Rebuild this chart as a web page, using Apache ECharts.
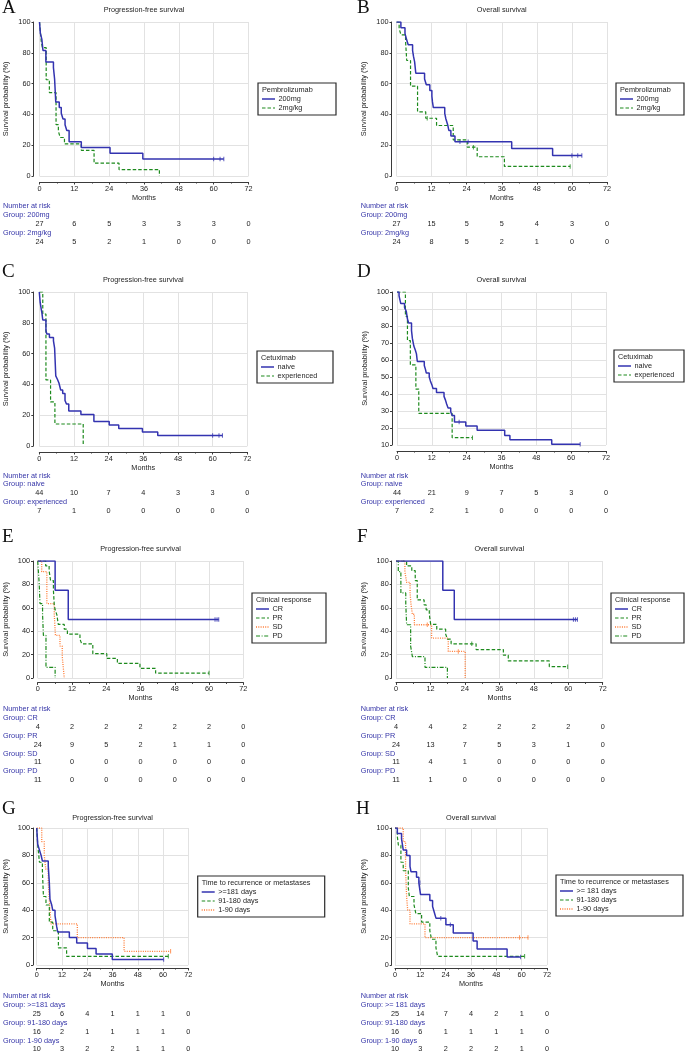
<!DOCTYPE html>
<html lang="en">
<head>
<meta charset="UTF-8">
<title>Kaplan-Meier curves</title>
<script src="https://cdn.jsdelivr.net/npm/echarts/dist/echarts.min.js"></script>
<style>html,body{margin:0;padding:0;background:#fff;}</style>
</head>
<body>
<div id="chart" style="width:685px;height:1052px;"></div>
<script>
// time points of the x axis / at-risk table (months)
var months = [0, 12, 24, 36, 48, 60, 72];

// ---- A: PFS by pembrolizumab dose  [month, survival %]
var pfsPembro200 = [[0,100],[0.3,92.6],[0.8,88.9],[1.2,81.5],[2.2,74.1],[4.8,70.4],[5.2,63.0],[5.6,48.1],[6.8,44.4],[7.5,40.7],[8.1,37.0],[8.8,33.3],[9.4,29.6],[10.2,22.2],[14.4,18.5],[24.3,14.8],[35.6,11.1],[63.5,11.1]];
var pfsPembro200Cens = [[60,11.1],[62.2,11.1],[63.5,11.1]];
var pfsPembro2 = [[0,100],[0.2,95.8],[0.4,91.7],[0.6,87.5],[1.0,83.3],[2.3,62.5],[3.4,54.2],[5.7,33.3],[6.5,29.2],[7.1,25.0],[8.6,20.8],[14.4,16.7],[18.8,8.3],[27.4,4.2],[41.3,0]];
var pfsPembro2Cens = [];
var riskPfsPembro200 = [27,6,5,3,3,3,0];
var riskPfsPembro2 = [24,5,2,1,0,0,0];

// ---- B: OS by pembrolizumab dose
var osPembro200 = [[0,100],[1.5,96.3],[2.9,92.6],[3.4,88.9],[4.0,85.2],[5.5,81.5],[5.8,77.8],[6.2,74.1],[6.6,66.7],[9.6,63.0],[10.2,59.3],[11.4,55.6],[12.1,51.9],[12.3,48.1],[12.6,44.4],[16.5,40.7],[16.9,37.0],[17.5,33.3],[17.9,29.6],[18.6,25.9],[20.0,22.2],[39.4,17.8],[53.4,13.3],[63.4,13.3]];
var osPembro200Cens = [[21.7,22.2],[24.5,22.2],[60,13.3],[62,13.3],[63.4,13.3]];
var osPembro2 = [[0,100],[0.9,95.8],[1.5,91.7],[3.1,87.5],[3.5,75.0],[4.8,58.3],[7.2,41.7],[10.0,37.5],[13.7,32.8],[19.4,23.4],[24.2,18.7],[27.6,12.5],[36.9,6.2],[59.4,6.2]];
var osPembro2Cens = [[10.5,37.5],[26.3,18.7],[59.4,6.2]];
var riskOsPembro200 = [27,15,5,5,4,3,0];
var riskOsPembro2 = [24,8,5,2,1,0,0];

// ---- C: PFS by prior cetuximab
var pfsCetuxNaive = [[0,100],[0.3,93.2],[0.7,88.6],[0.9,86.4],[1.2,81.8],[2.3,75.0],[2.6,72.7],[3.5,70.5],[4.9,68.2],[5.3,63.6],[5.7,45.5],[6.3,43.2],[6.8,40.9],[7.4,36.4],[8.1,34.1],[8.9,29.5],[9.4,27.3],[10.2,22.7],[14.4,20.5],[18.9,15.9],[24.2,13.6],[27.5,11.4],[35.7,9.1],[41.0,6.8],[63.4,6.8]];
var pfsCetuxNaiveCens = [[60,6.8],[62.2,6.8],[63.4,6.8]];
var pfsCetuxExp = [[0,100],[1.2,85.7],[2.3,42.9],[3.9,28.6],[5.4,14.3],[15.2,0]];
var pfsCetuxExpCens = [];
var riskPfsCetuxNaive = [44,10,7,4,3,3,0];
var riskPfsCetuxExp = [7,1,0,0,0,0,0];

// ---- D: OS by prior cetuximab
var osCetuxNaive = [[0,100],[0.7,97.7],[1.3,93.2],[2.6,90.9],[3.2,88.6],[3.6,84.1],[4.0,81.8],[5.0,77.3],[5.3,72.7],[5.8,68.2],[6.3,65.9],[6.7,63.6],[7.0,59.1],[9.4,56.8],[9.8,54.5],[10.1,52.3],[11.1,50.0],[11.5,47.7],[12.0,45.5],[12.4,43.2],[13.6,40.9],[16.2,38.6],[16.7,36.4],[17.1,34.1],[17.6,31.8],[18.5,29.5],[19.0,27.3],[19.8,23.6],[23.7,21.2],[27.6,18.7],[37.1,15.6],[38.9,13.1],[53.3,10.5],[63.1,10.5]];
var osCetuxNaiveCens = [[21.4,23.6],[63.1,10.5]];
var osCetuxExp = [[0,100],[2.9,85.7],[3.6,71.4],[4.6,57.1],[6.5,42.9],[7.5,28.6],[19.0,14.3],[26.0,14.3]];
var osCetuxExpCens = [[26.0,14.3]];
var riskOsCetuxNaive = [44,21,9,7,5,3,0];
var riskOsCetuxExp = [7,2,1,0,0,0,0];

// ---- E: PFS by clinical response
var pfsCR = [[0,100],[6.1,75],[10.7,50],[63.4,50]];
var pfsCRCens = [[62.1,50],[62.8,50],[63.4,50]];
var pfsPR = [[0,100],[2.8,95.8],[4.0,91.7],[4.5,83.3],[5.5,75.0],[5.8,62.5],[6.1,58.3],[6.7,54.2],[7.2,45.8],[9.3,41.7],[10.4,37.5],[14.8,33.3],[15.4,29.2],[19.3,20.8],[24.2,16.7],[27.9,12.5],[35.8,8.3],[41.3,4.2],[60.0,4.2]];
var pfsPRCens = [[60.0,4.2]];
var pfsSD = [[0,100],[1.4,90.9],[3.2,63.6],[5.8,54.5],[6.2,36.4],[7.8,27.3],[8.6,18.2],[9.3,0]];
var pfsSDCens = [];
var pfsPD = [[0,100],[0.5,81.8],[0.8,63.6],[1.7,54.5],[2.0,36.4],[2.9,9.1],[6.1,0]];
var pfsPDCens = [];
var riskPfsCR = [4,2,2,2,2,2,0];
var riskPfsPR = [24,9,5,2,1,1,0];
var riskPfsSD = [11,0,0,0,0,0,0];
var riskPfsPD = [11,0,0,0,0,0,0];

// ---- F: OS by clinical response
var osCR = [[0,100],[16.3,75],[20.3,50],[63.2,50]];
var osCRCens = [[61.8,50],[62.5,50],[63.2,50]];
var osPR = [[0,100],[3.7,95.8],[5.5,91.7],[6.7,83.3],[7.4,66.7],[9.8,62.5],[10.5,58.3],[11.6,54.2],[12.1,45.8],[14.2,41.7],[17.3,37.5],[17.9,33.3],[19.2,29.2],[27.9,24.3],[37.4,19.5],[39.1,14.6],[53.4,9.7],[59.8,9.7]];
var osPRCens = [[26.4,29.2],[59.8,9.7]];
var osSD = [[0,100],[3.1,90.9],[3.7,81.8],[4.9,72.7],[5.2,63.6],[5.7,54.5],[6.4,45.5],[12.4,34.1],[18.2,22.7],[24.1,0]];
var osSDCens = [[10.9,45.5],[21.7,22.7]];
var osPD = [[0,100],[0.8,90.9],[1.7,72.7],[3.4,63.6],[3.7,45.5],[5.1,27.3],[5.7,18.2],[10.1,9.1],[17.9,0]];
var osPDCens = [];
var riskOsCR = [4,4,2,2,2,2,0];
var riskOsPR = [24,13,7,5,3,1,0];
var riskOsSD = [11,4,1,0,0,0,0];
var riskOsPD = [11,1,0,0,0,0,0];

// ---- G: PFS by time to recurrence or metastases
var pfsTtr181 = [[0,100],[0.5,88],[1.3,84],[2.1,80],[2.7,76],[5.5,72],[6.0,60],[6.3,48],[7.1,44],[7.6,40],[8.7,36],[9.5,28],[10.0,24],[15.5,20],[19.0,16],[24.1,12],[28.2,8],[35.9,4],[60.3,4]];
var pfsTtr181Cens = [[60.3,4]];
var pfsTtr91 = [[0,100],[0.5,87.5],[1.3,75.0],[2.7,68.8],[3.2,50.0],[4.4,43.8],[6.0,31.3],[7.6,25.0],[10.3,12.5],[14.2,6.3],[62.5,6.3]];
var pfsTtr91Cens = [[62.5,6.3]];
var pfsTtr1 = [[0,100],[2.4,90],[3.6,80],[4.3,70],[5.5,60],[6.3,40],[6.8,30],[19.3,20],[41.5,10],[63.6,10]];
var pfsTtr1Cens = [[63.6,10]];
var riskPfsTtr181 = [25,6,4,1,1,1,0];
var riskPfsTtr91 = [16,2,1,1,1,1,0];
var riskPfsTtr1 = [10,3,2,2,1,1,0];

// ---- H: OS by time to recurrence or metastases
var osTtr181 = [[0,100],[1.1,96],[3.1,92],[3.9,84],[5.5,80],[7.1,72],[7.6,68],[10.2,64],[11.3,60],[12.1,51.4],[16.5,47.1],[17.8,42.8],[18.6,38.5],[19.4,34.2],[24.1,29.3],[27.6,23.4],[37.0,17.6],[38.9,11.7],[53.1,5.9],[59.5,5.9]];
var osTtr181Cens = [[11.8,60],[21.7,34.2],[26.2,29.3],[59.5,5.9]];
var osTtr91 = [[0,100],[1.1,93.8],[1.6,87.5],[2.8,75.0],[3.9,68.8],[6.3,56.3],[6.8,50.0],[9.0,43.8],[9.9,37.5],[12.6,31.3],[16.5,25.0],[17.3,18.8],[19.4,12.5],[20.2,6.3],[61.4,6.3]];
var osTtr91Cens = [[61.4,6.3]];
var osTtr1 = [[0,100],[3.9,90],[5.0,70],[5.5,50],[6.0,40],[7.1,30],[14.2,20],[63.0,20]];
var osTtr1Cens = [[59.0,20],[63.0,20]];
var riskOsTtr181 = [25,14,7,4,2,1,0];
var riskOsTtr91 = [16,6,1,1,1,1,0];
var riskOsTtr1 = [10,3,2,2,2,1,0];

// ---- styles
var FONT = '"Liberation Sans", Arial, Helvetica, sans-serif';
var SERIF = '"Liberation Serif", "Times New Roman", serif';
var FS = 7.3;
var BLUE_TXT = '#3535a8';
var TXT = '#1e1e1e';
var styles = {
  blue:    {color:'#3333b0', type:'solid', width:1.5},
  green:   {color:'#1d8a1d', type:[3.5,2], width:1.2},
  orange:  {color:'#ff7a33', type:[1,1.3], width:1.3},
  dashdot: {color:'#1d8a1d', type:[4,1.6,1,1.6], width:1.2}
};
var RS = 8.9; // row step of the at-risk table

var panels = [
  {letter:'A', lx:2, ly:8.5, title:'Progression-free survival', ty:10, grid:[39.5,22,209,154], off:[6,6], yMin:0, yStep:20,
   box:[258,83,78], boxTitle:'Pembrolizumab', riskX:3, riskTop:206,
   groups:[{name:'200mg', curve:pfsPembro200, cens:pfsPembro200Cens, risk:riskPfsPembro200, st:'blue'},
           {name:'2mg/kg', curve:pfsPembro2, cens:pfsPembro2Cens, risk:riskPfsPembro2, st:'green'}]},
  {letter:'B', lx:357, ly:8.5, title:'Overall survival', ty:10, grid:[396.5,22,210.5,154], off:[5,6], yMin:0, yStep:20,
   box:[616,83,68], boxTitle:'Pembrolizumab', riskX:360.7, riskTop:206,
   groups:[{name:'200mg', curve:osPembro200, cens:osPembro200Cens, risk:riskOsPembro200, st:'blue'},
           {name:'2mg/kg', curve:osPembro2, cens:osPembro2Cens, risk:riskOsPembro2, st:'green'}]},
  {letter:'C', lx:2, ly:272.5, title:'Progression-free survival', ty:280, grid:[39.3,292,208,154], off:[6,6], yMin:0, yStep:20,
   box:[257,351,76], boxTitle:'Cetuximab', riskX:3, riskTop:475.5,
   groups:[{name:'naive', curve:pfsCetuxNaive, cens:pfsCetuxNaiveCens, risk:riskPfsCetuxNaive, st:'blue'},
           {name:'experienced', curve:pfsCetuxExp, cens:pfsCetuxExpCens, risk:riskPfsCetuxExp, st:'green'}]},
  {letter:'D', lx:357, ly:272.5, title:'Overall survival', ty:280, grid:[397,292,209,153], off:[5,6], yMin:10, yStep:10,
   box:[614,350,70], boxTitle:'Cetuximab', riskX:360.7, riskTop:475.5,
   groups:[{name:'naive', curve:osCetuxNaive, cens:osCetuxNaiveCens, risk:riskOsCetuxNaive, st:'blue'},
           {name:'experienced', curve:osCetuxExp, cens:osCetuxExpCens, risk:riskOsCetuxExp, st:'green'}]},
  {letter:'E', lx:2, ly:537.5, title:'Progression-free survival', ty:549, grid:[37.7,561,205.6,117], off:[4.7,4.4], yMin:0, yStep:20,
   box:[252,593,74], boxTitle:'Clinical response', riskX:3, riskTop:709,
   groups:[{name:'CR', curve:pfsCR, cens:pfsCRCens, risk:riskPfsCR, st:'blue'},
           {name:'PR', curve:pfsPR, cens:pfsPRCens, risk:riskPfsPR, st:'green'},
           {name:'SD', curve:pfsSD, cens:pfsSDCens, risk:riskPfsSD, st:'orange'},
           {name:'PD', curve:pfsPD, cens:pfsPDCens, risk:riskPfsPD, st:'dashdot'}]},
  {letter:'F', lx:357, ly:537.5, title:'Overall survival', ty:549, grid:[396,561,206.7,117], off:[4.3,4.4], yMin:0, yStep:20,
   box:[611,593,73], boxTitle:'Clinical response', riskX:360.7, riskTop:709,
   groups:[{name:'CR', curve:osCR, cens:osCRCens, risk:riskOsCR, st:'blue'},
           {name:'PR', curve:osPR, cens:osPRCens, risk:riskOsPR, st:'green'},
           {name:'SD', curve:osSD, cens:osSDCens, risk:riskOsSD, st:'orange'},
           {name:'PD', curve:osPD, cens:osPDCens, risk:riskOsPD, st:'dashdot'}]},
  {letter:'G', lx:2, ly:809, title:'Progression-free survival', ty:818, grid:[36.7,828,151.6,137], off:[3.7,3], yMin:0, yStep:20,
   box:[197.7,876,127], boxTitle:'Time to recurrence or metastases', riskX:3, riskTop:996,
   groups:[{name:'>=181 days', curve:pfsTtr181, cens:pfsTtr181Cens, risk:riskPfsTtr181, st:'blue'},
           {name:'91-180 days', curve:pfsTtr91, cens:pfsTtr91Cens, risk:riskPfsTtr91, st:'green'},
           {name:'1-90 days', curve:pfsTtr1, cens:pfsTtr1Cens, risk:riskPfsTtr1, st:'orange'}]},
  {letter:'H', lx:356, ly:809, title:'Overall survival', ty:818, grid:[395,828,152,137], off:[3.3,3], yMin:0, yStep:20,
   box:[556,875,127], boxTitle:'Time to recurrence or metastases', riskX:360.7, riskTop:996,
   groups:[{name:'>= 181 days', curve:osTtr181, cens:osTtr181Cens, risk:riskOsTtr181, st:'blue'},
           {name:'91-180 days', curve:osTtr91, cens:osTtr91Cens, risk:riskOsTtr91, st:'green'},
           {name:'1-90 days', curve:osTtr1, cens:osTtr1Cens, risk:riskOsTtr1, st:'orange'}]}
];

function txt(x, y, s, o) {
  o = o || {};
  var al = o.align || 'left';
  return {type:'text', x:x, y:y, silent:true, z:10,
    style:{text:s, fill:o.fill || TXT, font:(o.size || FS) + 'px ' + (o.family || FONT),
           textAlign:al, align:al, textVerticalAlign:'middle', verticalAlign:'middle'}};
}

var option = {animation:false, textStyle:{fontFamily:FONT}, grid:[], xAxis:[], yAxis:[], series:[], graphic:{elements:[]}};
var G = option.graphic.elements;
var axisCol = '#3a3a3a';

// plot grids
panels.forEach(function (p, i) {
  var g = p.grid;
  option.grid.push({left:g[0], top:g[1], width:g[2], height:g[3], containLabel:false, outerBoundsMode:'none'});
  option.xAxis.push({type:'value', gridIndex:i, min:0, max:72, interval:12, offset:p.off[1],
    name:'Months', nameLocation:'middle', nameGap:12, nameTextStyle:{fontSize:FS, color:TXT},
    axisLine:{onZero:false, lineStyle:{color:axisCol}}, axisTick:{length:2.5, lineStyle:{color:axisCol}},
    minorTick:{show:true, splitNumber:2, length:1.5, lineStyle:{color:axisCol}},
    axisLabel:{fontSize:FS, color:TXT, margin:3},
    splitLine:{show:true, lineStyle:{color:'#e2e2e2'}}});
  option.yAxis.push({type:'value', gridIndex:i, min:p.yMin, max:100, interval:p.yStep, offset:p.off[0],
    name:'Survival probability (%)', nameLocation:'middle', nameGap:24, nameTextStyle:{fontSize:FS, color:TXT},
    axisLine:{show:true, onZero:false, lineStyle:{color:axisCol}}, axisTick:{show:true, length:2, lineStyle:{color:axisCol}},
    axisLabel:{fontSize:FS, color:TXT, margin:3},
    splitLine:{show:true, lineStyle:{color:'#e2e2e2'}}});
});

// at-risk table grids (same horizontal scale as the plot above them)
panels.forEach(function (p, i) {
  var g = p.grid, n = p.groups.length;
  option.grid.push({left:g[0], top:p.riskTop + 2 * RS, width:g[2], height:(n - 1) * 2 * RS, containLabel:false, outerBoundsMode:'none'});
  option.xAxis.push({type:'value', gridIndex:8 + i, min:0, max:72, show:false});
  option.yAxis.push({type:'value', gridIndex:8 + i, min:0, max:n - 1, inverse:true, show:false});
});

function riskCell(params, api) {
  var pt = api.coord([api.value(0), api.value(1)]);
  return {type:'text', x:pt[0], y:pt[1], silent:true,
    style:{text:String(api.value(2)), fill:TXT, font:FS + 'px ' + FONT,
           textAlign:'center', align:'center', textVerticalAlign:'middle', verticalAlign:'middle'}};
}

panels.forEach(function (p, i) {
  var g = p.grid;
  G.push(txt(p.lx, p.ly, p.letter, {size:19, family:SERIF, fill:'#111'}));
  G.push(txt(g[0] + g[2] / 2, p.ty, p.title, {align:'center'}));

  // legend box
  var b = p.box, nG = p.groups.length;
  G.push({type:'rect', silent:true, z:5, shape:{x:b[0], y:b[1], width:b[2], height:16 + 9 * (nG - 1) + 7},
          style:{fill:'#fff', stroke:'#2a2a2a', lineWidth:1.2}});
  G.push(txt(b[0] + 4, b[1] + 6.5, p.boxTitle));

  G.push(txt(p.riskX, p.riskTop, 'Number at risk', {fill:BLUE_TXT}));

  p.groups.forEach(function (gr, k) {
    var st = styles[gr.st];
    var ly = b[1] + 16 + 9 * k;
    G.push({type:'line', silent:true, z:10, shape:{x1:b[0] + 4, y1:ly, x2:b[0] + 17, y2:ly},
            style:{stroke:st.color, lineWidth:st.width, lineDash:st.type === 'solid' ? null : st.type}});
    G.push(txt(b[0] + 20.5, ly, gr.name));
    G.push(txt(p.riskX, p.riskTop + RS * (2 * k + 1), 'Group: ' + gr.name, {fill:BLUE_TXT}));

    option.series.push({type:'line', name:gr.name, xAxisIndex:i, yAxisIndex:i, step:'end', symbol:'none',
      data:gr.curve, lineStyle:{color:st.color, width:st.width, type:st.type}, z:3 + (nG - k), silent:true});
    if (gr.cens.length) {
      option.series.push({type:'scatter', xAxisIndex:i, yAxisIndex:i, symbol:'rect', symbolSize:[1, 4.5],
        data:gr.cens, itemStyle:{color:st.color}, z:3, silent:true});
    }
    option.series.push({type:'custom', coordinateSystem:'cartesian2d', xAxisIndex:8 + i, yAxisIndex:8 + i,
      renderItem:riskCell, encode:{x:0, y:1}, silent:true, clip:false,
      data:months.map(function (m, j) { return [m, k, gr.risk[j]]; })});
  });
});

var chart = echarts.init(document.getElementById('chart'), null, {renderer:'canvas'});
chart.setOption(option);
</script>
</body>
</html>
